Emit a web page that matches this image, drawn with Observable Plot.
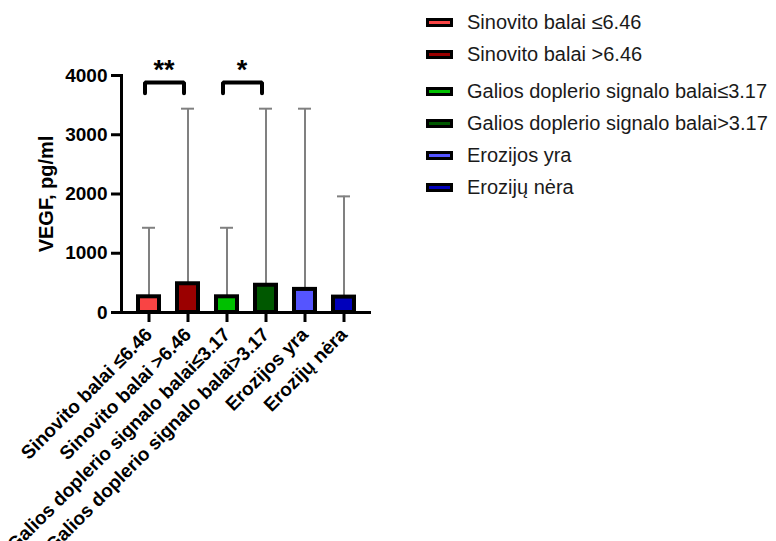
<!DOCTYPE html>
<html>
<head>
<meta charset="utf-8">
<script src="https://cdn.jsdelivr.net/npm/d3@7"></script>
<script src="https://cdn.jsdelivr.net/npm/@observablehq/plot@0.6"></script>
<style>
  html, body { margin: 0; padding: 0; background: #fff; }
  #wrap { position: relative; width: 776px; height: 541px; font-family: "Liberation Sans", Arial, sans-serif; }
  #legend { position: absolute; left: 426px; top: 6px; }
  .row { display: flex; align-items: center; height: 32px; font-size: 20px; color: #1a1a1a; }
  .row.gap { margin-top: 5px; }
  .sw { width: 21px; height: 3px; border: 3px solid #000; margin-right: 14px; }
</style>
</head>
<body>
<div id="wrap"><div id="legend"></div></div>
<script>
const categories = ["Sinovito balai ≤6.46", "Sinovito balai >6.46", "Galios doplerio signalo balai≤3.17", "Galios doplerio signalo balai>3.17", "Erozijos yra", "Erozijų nėra"];
const medians = [265, 485, 265, 460, 390, 260];
const uppers = [1430, 3440, 1430, 3440, 3440, 1960];
const colors = ["#f94444", "#9b0000", "#00c000", "#005800", "#5555ff", "#0000bb"];
const yTicks = [0, 1000, 2000, 3000, 4000];
const yLabel = "VEGF, pg/ml";
const bracketPairs = [[0, 1, "**"], [2, 3, "*"]];
const bracketTop = 3880;
const bracketBottom = 3700;

const data = categories.map((c, i) => ({cat: c, v: medians[i], up: uppers[i], color: colors[i]}));
const bracketPts = bracketPairs.flatMap(([a, b], k) => [
  {k, x: categories[a], y: bracketBottom},
  {k, x: categories[a], y: bracketTop},
  {k, x: categories[b], y: bracketTop},
  {k, x: categories[b], y: bracketBottom}
]);
const stars = bracketPairs.map(([a, b, s]) => ({x: categories[a], y: bracketTop, s}));

const font = "'Liberation Sans', Arial, sans-serif";
const chart = Plot.plot({
  width: 776,
  height: 541,
  marginLeft: 121,
  marginRight: 405,
  marginTop: 75,
  marginBottom: 229,
  style: {fontFamily: font, background: "white", color: "#000"},
  x: {type: "band", domain: categories, paddingInner: 0.46, paddingOuter: 0.435, axis: null},
  y: {domain: [0, 4000], axis: null},
  marks: [
    Plot.ruleX(data, {x: "cat", y1: "v", y2: "up", stroke: "#808080", strokeWidth: 2}),
    Plot.tickY(data, {x: "cat", y: "up", stroke: "#808080", strokeWidth: 2, insetLeft: 4, insetRight: 4}),
    Plot.barY(data, {x: "cat", y: "v", fill: "color", stroke: "#000", strokeWidth: 4}),
    Plot.ruleY([0], {stroke: "#000", strokeWidth: 3}),
    Plot.frame({anchor: "left", stroke: "#000", strokeWidth: 3}),
    Plot.axisY({ticks: yTicks, tickFormat: d => String(d), tickSize: 10, tickPadding: 4, strokeWidth: 3, fontSize: 19, fontWeight: "bold", label: null}),
    Plot.axisX({tickSize: 10, strokeWidth: 3, tickRotate: -45, fontSize: 19, fontWeight: "bold", label: null, tickPadding: 9}),
    Plot.text([yLabel], {frameAnchor: "left", textAnchor: "middle", rotate: -90, dx: -75, fontSize: 20, fontWeight: "bold", fill: "#000"}),
    Plot.line(bracketPts, {x: "x", y: "y", z: "k", stroke: "#000", strokeWidth: 4, strokeLinejoin: "miter", dx: -4}),
    Plot.text(stars, {x: "x", y: "y", text: "s", dx: 15, dy: -4, lineAnchor: "bottom", fontSize: 27, fontWeight: "bold", fill: "#000"})
  ]
});
document.getElementById("wrap").prepend(chart);

const legend = document.getElementById("legend");
categories.forEach((c, i) => {
  const row = document.createElement("div");
  row.className = "row" + (i === 2 ? " gap" : "");
  const sw = document.createElement("div");
  sw.className = "sw";
  sw.style.background = colors[i];
  const t = document.createElement("span");
  t.textContent = c;
  row.append(sw, t);
  legend.append(row);
});
</script>
</body>
</html>
